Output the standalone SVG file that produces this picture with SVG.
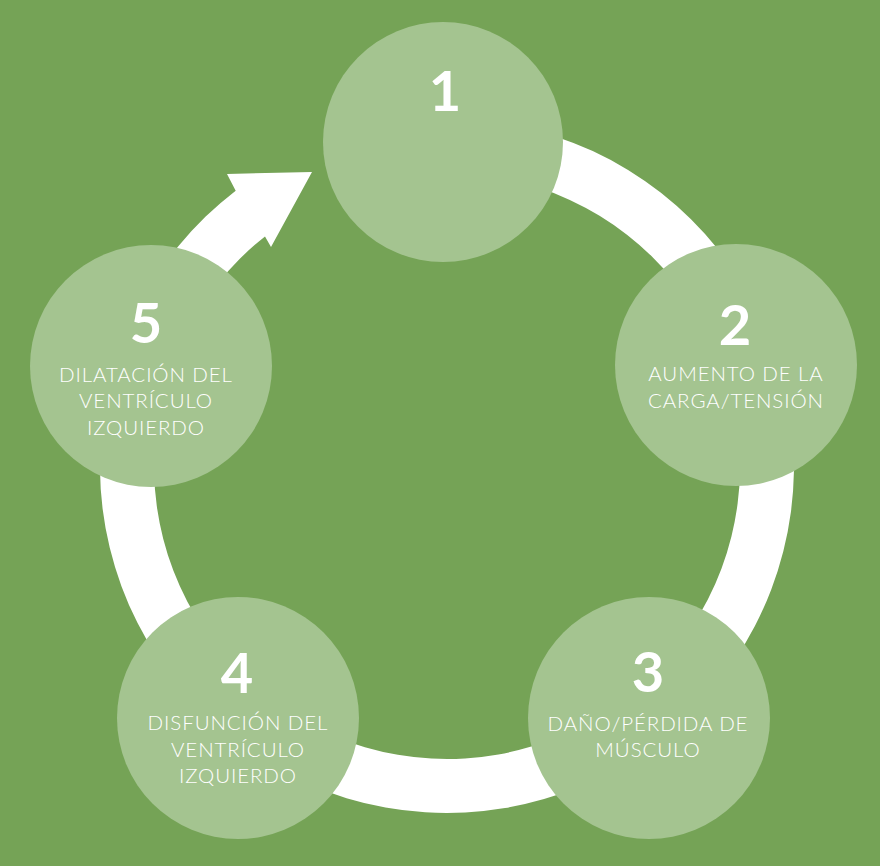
<svg xmlns="http://www.w3.org/2000/svg" width="880" height="866" viewBox="0 0 880 866">
<style>
.bg{fill:#75a356}
.node{fill:#a4c490}
.ring{fill:#ffffff}
.num{font-family:Lato,"Liberation Sans",sans-serif;font-weight:700;font-size:56px;fill:#ffffff;text-anchor:middle}
.lbl{font-family:Lato,"Liberation Sans",sans-serif;font-weight:300;font-size:20.5px;letter-spacing:0.9px;fill:#ffffff;text-anchor:middle}
</style>
<rect class="bg" x="0" y="0" width="880" height="866"/>
<g id="connectors">
<path class="ring" d="M477.2,120.3 A347,347 0 1 1 235.7,190.7 L227,174 L312,172 L271,247 L265,236.4 A293,293 0 1 0 472.5,174.1 Z"/>
</g>
<g id="node1">
<circle class="node" cx="443" cy="142" r="120"/>
<text class="num" x="445" y="111">1</text>
</g>
<g id="node2">
<circle class="node" cx="736" cy="365" r="121"/>
<text class="num" x="735" y="345">2</text>
<text class="lbl" x="736" y="381">AUMENTO DE LA</text>
<text class="lbl" x="736" y="408">CARGA/TENSIÓN</text>
</g>
<g id="node3">
<circle class="node" cx="649" cy="718" r="121"/>
<text class="num" x="648" y="692">3</text>
<text class="lbl" x="648" y="731">DAÑO/PÉRDIDA DE</text>
<text class="lbl" x="648" y="757">MÚSCULO</text>
</g>
<g id="node4">
<circle class="node" cx="238" cy="718" r="121"/>
<text class="num" x="237" y="693">4</text>
<text class="lbl" x="238" y="730">DISFUNCIÓN DEL</text>
<text class="lbl" x="238" y="757">VENTRÍCULO</text>
<text class="lbl" x="238" y="783">IZQUIERDO</text>
</g>
<g id="node5">
<circle class="node" cx="151" cy="366" r="121"/>
<text class="num" x="146" y="343">5</text>
<text class="lbl" x="146" y="382">DILATACIÓN DEL</text>
<text class="lbl" x="146" y="408">VENTRÍCULO</text>
<text class="lbl" x="146" y="435">IZQUIERDO</text>
</g>
</svg>
